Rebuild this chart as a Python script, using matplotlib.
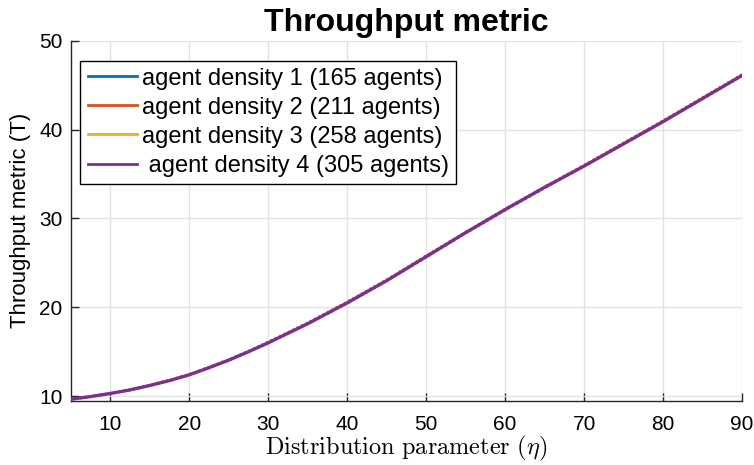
import numpy as np
import matplotlib.pyplot as plt
from matplotlib.lines import Line2D

# distribution parameter (eta) and throughput for each agent density
eta = [5, 7.5, 10, 12.5, 15, 17.5, 20, 22.5, 25, 27.5, 30, 35, 40, 45, 50, 55, 60, 65, 70, 75, 80, 85, 90]
thr_d1 = [9.60, 9.90, 10.25, 10.65, 11.15, 11.70, 12.35, 13.15, 14.00, 14.95, 15.95, 18.10, 20.40, 22.95, 25.60, 28.30, 30.90, 33.40, 35.85, 38.35, 40.85, 43.45, 46.00]
thr_d2 = [9.70, 10.00, 10.35, 10.75, 11.30, 11.85, 12.50, 13.30, 14.15, 15.10, 16.15, 18.30, 20.65, 23.15, 25.85, 28.50, 31.10, 33.60, 36.05, 38.55, 41.05, 43.65, 46.25]
thr_d3 = [9.65, 9.95, 10.30, 10.70, 11.25, 11.80, 12.45, 13.25, 14.10, 15.05, 16.05, 18.20, 20.55, 23.05, 25.75, 28.40, 31.00, 33.50, 35.95, 38.45, 40.95, 43.55, 46.15]
thr_d4 = [9.65, 9.95, 10.30, 10.70, 11.20, 11.75, 12.40, 13.20, 14.05, 15.00, 16.00, 18.15, 20.50, 23.00, 25.70, 28.40, 31.00, 33.50, 35.90, 38.40, 40.90, 43.50, 46.10]

labels = ['agent density 1 (165 agents)',
          'agent density 2 (211 agents)',
          'agent density 3 (258 agents)',
          ' agent density 4 (305 agents)']
colors = ['#0072BD', '#D95319', '#EDB120', '#7E2F8E']

plt.rcParams['font.family'] = ['Liberation Sans', 'DejaVu Sans']
plt.rcParams['mathtext.fontset'] = 'cm'

fig = plt.figure(figsize=(7.54, 4.65), dpi=100)
ax = fig.add_axes([0.0938, 0.1376, 0.8905, 0.7749])

series = [thr_d1, thr_d2, thr_d3]
for y, c in zip(series, colors[:3]):
    ax.plot(eta, y, color=c, lw=1.4, ls=(0, (1, 1.5)), zorder=3)
ax.plot(eta, thr_d4, color=colors[3], lw=2.4, zorder=4)

ax.set_xlim(5, 90)
ax.set_ylim(9.45, 50)
ax.set_xticks(range(10, 91, 10))
ax.set_yticks(range(10, 51, 10))

ax.grid(True, color='#e3e3e3', lw=1)
ax.set_axisbelow(True)
for s in ['top', 'right']:
    ax.spines[s].set_visible(False)
for s in ['left', 'bottom']:
    ax.spines[s].set_color('#262626')
    ax.spines[s].set_linewidth(1.0)
ax.tick_params(direction='in', length=6, width=1, colors='#262626',
               labelsize=15, labelcolor='black')
ax.tick_params(axis='x', pad=10)
ax.tick_params(axis='y', pad=6)

ax.set_title('Throughput metric', fontsize=23, fontweight='bold', pad=7)
ax.set_ylabel('Throughput metric (T)', fontsize=16, labelpad=6)
ax.set_xlabel(r'$\mathrm{Distribution\ parameter\ }(\eta)$', fontsize=17.5, labelpad=0)

handles = [Line2D([], [], color=c, lw=2) for c in colors]
leg = ax.legend(handles, labels, loc='upper left', bbox_to_anchor=(0.0145, 0.945),
                fontsize=17, frameon=True, fancybox=False, edgecolor='black',
                framealpha=1, handlelength=2.1, handletextpad=0.2,
                labelspacing=0.3, borderpad=0.3, borderaxespad=0)
leg.get_frame().set_linewidth(1.0)

fig.savefig('out.png', dpi=100)
